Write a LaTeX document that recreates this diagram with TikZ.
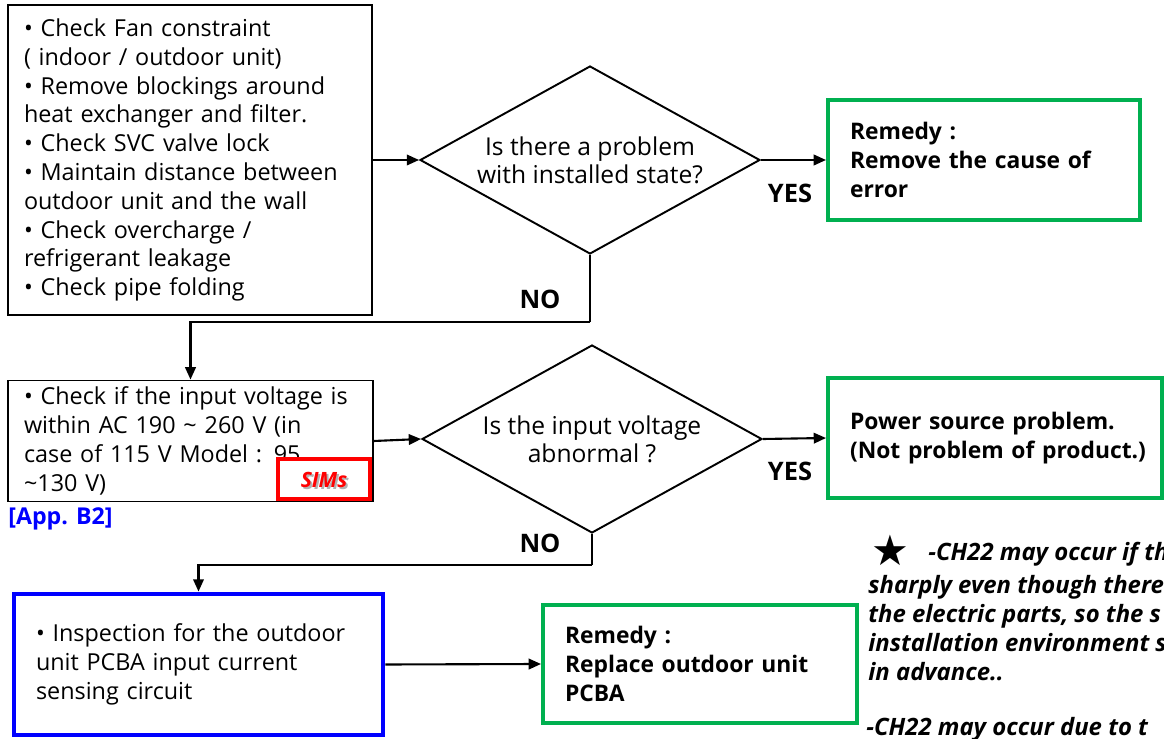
\documentclass[tikz,border=0pt]{standalone}
\usepackage{fontspec}
\setmainfont{Open Sans}
\newfontfamily\symfont{DejaVu Sans}
\usetikzlibrary{arrows.meta,shapes.geometric}

\definecolor{okgreen}{RGB}{0,176,80}
\definecolor{simsred}{RGB}{255,0,0}
\definecolor{refblue}{RGB}{0,0,255}

\tikzset{
  flow/.style={line width=1.2pt, -{Triangle[length=7pt,width=6pt]}},
  branch/.style={line width=1.2pt},
  checkbox/.style={draw, line width=1.1pt, align=left, inner sep=0pt,
    font=\fontsize{13.3}{16.4}\selectfont},
  question/.style={draw, diamond, line width=1.1pt, aspect=1.8, inner sep=1pt,
    align=center, minimum width=6.8cm, minimum height=3.76cm,
    font=\fontsize{14}{16}\selectfont},
  remedy/.style={draw=okgreen, line width=2.3pt, align=left, inner sep=0pt,
    font=\bfseries\fontsize{13}{16.3}\selectfont},
  answer/.style={inner sep=0pt, font=\bfseries\fontsize{14.5}{16}\selectfont},
  note/.style={inner sep=0pt, font=\bfseries\itshape\fontsize{13.6}{16}\selectfont},
}

\begin{document}
\begin{tikzpicture}[x=0.02cm, y=-0.02cm]
  %%%%% START %%%%%
  \useasboundingbox (0,0) rectangle (1164,739);

  % installed state check
  \node[checkbox, minimum width=7.28cm, minimum height=6.2cm, text width=6.64cm] (install) at (190,160)
    {• Check Fan constraint\\( indoor / outdoor unit)\\• Remove blockings around\\heat exchanger and filter.\\• Check SVC valve lock\\• Maintain distance between\\outdoor unit and the wall\\• Check overcharge /\\refrigerant leakage\\• Check pipe folding};
  \node[question] (q1) at (590,160) {Is there a problem\\with installed state?};
  \node[remedy, minimum width=6.24cm, minimum height=2.4cm, text width=5.36cm] (fix1) at (984,160)
    {Remedy :\\Remove the cause of\\error};

  \draw[flow] (install.east) -- (q1.west);
  \draw[flow] (q1.east) -- (fix1.west);
  \node[answer] (yes1) at (790,193) {YES};

  % input voltage check
  \node[checkbox, minimum width=7.3cm, minimum height=2.42cm, text width=6.66cm] (volt) at (190.5,441)
    {• Check if the input voltage is\\within AC 190 \textasciitilde{} 260 V (in\\case of 115 V Model : 95\\\textasciitilde130 V)};
  \node[draw=simsred, fill=white, line width=2.3pt, minimum width=1.84cm, minimum height=0.8cm] (sims) at (324,479) {};
  \node[text=black!30, font=\bfseries\itshape\fontsize{12}{14}\selectfont] at (326,482) {SIMs};
  \node[text=simsred, font=\bfseries\itshape\fontsize{12}{14}\selectfont] (simstxt) at (324,480) {SIMs};
  \node[anchor=west, inner sep=0pt, text=refblue, font=\bfseries\fontsize{13.2}{15}\selectfont] (app) at (8,519) {[App. B2]};

  \coordinate (no1) at (590,322);
  \draw[branch] (q1.south) -- (no1);
  \draw[flow] (no1) -| (volt.north);
  \node[answer] (nolbl1) at (540,299) {NO};

  \node[question] (q2) at (592,439) {Is the input voltage\\abnormal ?};
  \node[remedy, minimum width=6.68cm, minimum height=2.4cm, text width=5.8cm] (power) at (995,438)
    {Power source problem.\\\mbox{(Not problem of product.)}};

  \draw[flow] (volt.east) -- (q2.west);
  \draw[flow] (q2.east) -- (power.west);
  \node[answer] (yes2) at (790,471) {YES};

  % current sensing circuit
  \node[draw=refblue, line width=2.8pt, align=left, inner sep=0pt, minimum width=7.38cm, minimum height=2.82cm,
    text width=6.5cm, font=\fontsize{13.3}{16.4}\selectfont] (sense) at (198.5,664.5)
    {• Inspection for the outdoor\\unit PCBA input current\\sensing circuit};
  \node[remedy, minimum width=6.28cm, minimum height=2.36cm, text width=5.4cm] (fix2) at (700,664)
    {Remedy :\\Replace outdoor unit\\PCBA};

  \coordinate (no2) at (592,565);
  \draw[branch] (q2.south) -- (no2);
  \draw[flow] (no2) -| (sense.north);
  \node[answer] (nolbl2) at (540,543) {NO};
  \draw[flow] (sense.east) -- (fix2.west);

  % side notes, running past the right edge
  \begin{scope}
    \clip (0,0) rectangle (1164,739);
    \node[inner sep=0pt, font=\symfont\fontsize{24}{24}\selectfont] (star) at (890,550) {★};
    \node[note, anchor=base west] (note0) at (928,561) {-CH22 may occur if th};
    \foreach \txt [count=\i] in {{sharply even though there}, {the electric parts, so the s},
        {installation environment s}, {in advance..}}
      \node[note, anchor=base west] (note\i) at (868,565+29*\i) {\txt};
    \node[note, anchor=base west] (note5) at (866,736) {-CH22 may occur due to t};
  \end{scope}
  %%%%% END %%%%%
\end{tikzpicture}
\end{document}
